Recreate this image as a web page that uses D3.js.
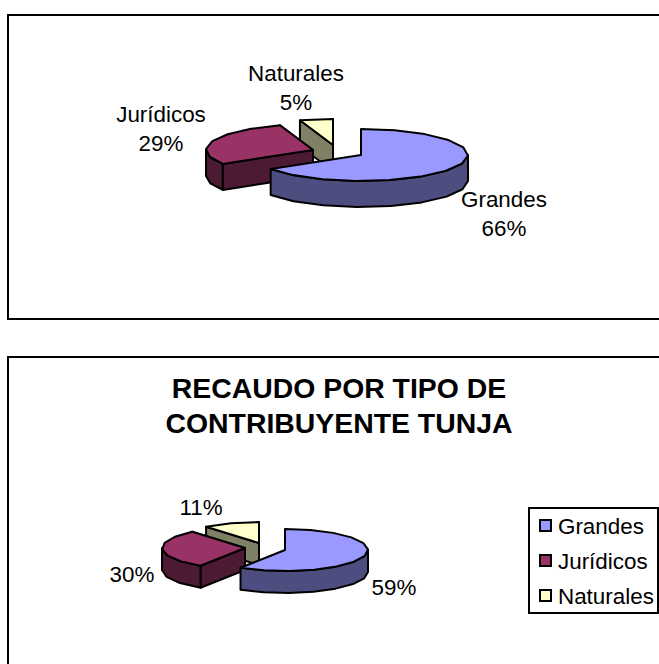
<!DOCTYPE html>
<html><head><meta charset="utf-8">
<script src="https://cdn.jsdelivr.net/npm/d3@7"></script>
<style>html,body{margin:0;padding:0;background:#fff}svg{display:block}text{font-family:"Liberation Sans",Arial,sans-serif;fill:#000}</style>
</head><body><svg id="c" width="659" height="664"></svg>
<script>
const categories=["Grandes","Jurídicos","Naturales"];
const valuesTop=[66,29,5];
const valuesBottom=[59,30,11];
const titleLines=["RECAUDO POR TIPO DE","CONTRIBUYENTE TUNJA"];
const faceColors=["#9999FF","#993366","#FFFFCC"];
const sideColors=["#4D4D80","#4D1A33","#808066"];

const svg=d3.select("#c");
const pie=d3.pie().sort(null).value(d=>d);
const line=d3.line();
const TAU=2*Math.PI;

function frame(d){
  svg.append("path").attr("d",d).attr("fill","none").attr("stroke","#000").attr("stroke-width",2);
}
function rim(a0,a1,c,g,step){
  const n=Math.max(1,Math.round((a1-a0)/step));
  return d3.range(n+1).map(i=>{
    const a=a0+(a1-a0)*i/n;
    return [c[0]+g.rx*Math.sin(a),c[1]-g.ry*Math.cos(a)];
  });
}
function draw3d(values,g){
  const arcs=pie(values);
  const step=TAU/g.steps;
  d3.range(arcs.length-1,-1,-1).forEach(i=>{
    const a=arcs[i],c=g.centers[i];
    const grp=svg.append("g").attr("stroke","#000").attr("stroke-width",2).attr("stroke-linejoin","round");
    const pts=rim(a.startAngle,a.endAngle,c,g,step);
    const drop=p=>[p[0],p[1]+g.depth];
    const side=sideColors[i];
    if(a.endAngle>Math.PI*1.5 && i>0){
      const last=pts[pts.length-1];
      grp.append("path").attr("fill",side).attr("d",line([c,last,drop(last),drop(c)])+"Z");
    }
    if(a.startAngle<TAU && a.startAngle>Math.PI*0.5){
      const first=pts[0];
      grp.append("path").attr("fill",side).attr("d",line([c,first,drop(first),drop(c)])+"Z");
    }
    const f0=Math.max(a.startAngle,Math.PI/2),f1=Math.min(a.endAngle,Math.PI*1.5);
    if(f1>f0){
      const front=rim(f0,f1,c,g,step);
      grp.append("path").attr("fill",side).attr("d",line(front.concat(front.map(drop).reverse()))+"Z");
    }
    grp.append("path").attr("fill",faceColors[i]).attr("d",line([c].concat(pts))+"Z");
  });
}
function label(lines,x,y,size,lh,weight){
  const t=svg.append("text").attr("text-anchor","middle").attr("font-size",size).attr("font-weight",weight||"normal");
  lines.forEach((s,i)=>t.append("tspan").attr("x",x).attr("y",y+i*lh).text(s));
}
const pct=v=>d3.format("d")(v)+"%";
const FS=22.4;

// Top chart
frame("M659,15H8V319H659");
draw3d(valuesTop,{rx:107,ry:26,depth:26,steps:20,centers:[[361,155],[313,150],[333,145]]});
label([categories[0],pct(valuesTop[0])],504,207,FS,29);
label([categories[1],pct(valuesTop[1])],161,122,FS,29);
label([categories[2],pct(valuesTop[2])],296,81,FS,29);

// Bottom chart
frame("M659,357H8V664");
label(titleLines,339,398,28.4,35,"bold");
draw3d(valuesBottom,{rx:83,ry:21,depth:22,steps:20,centers:[[285,550],[245,548],[259,543]]});
label([pct(valuesBottom[0])],394,595,FS,0);
label([pct(valuesBottom[1])],132,582,FS,0);
label([pct(valuesBottom[2])],201,515,FS,0);

// Legend
const lg=svg.append("g");
lg.append("rect").attr("x",529).attr("y",508).attr("width",129).attr("height",105).attr("fill","#fff").attr("stroke","#000").attr("stroke-width",2);
const ly=d3.scalePoint().domain(categories).range([526,596]);
categories.forEach((c,i)=>{
  lg.append("rect").attr("x",540).attr("y",ly(c)-6).attr("width",11).attr("height",11).attr("fill",faceColors[i]).attr("stroke","#000").attr("stroke-width",2);
  lg.append("text").attr("x",558).attr("y",ly(c)+8).attr("font-size",FS).text(c);
});
</script></body></html>
